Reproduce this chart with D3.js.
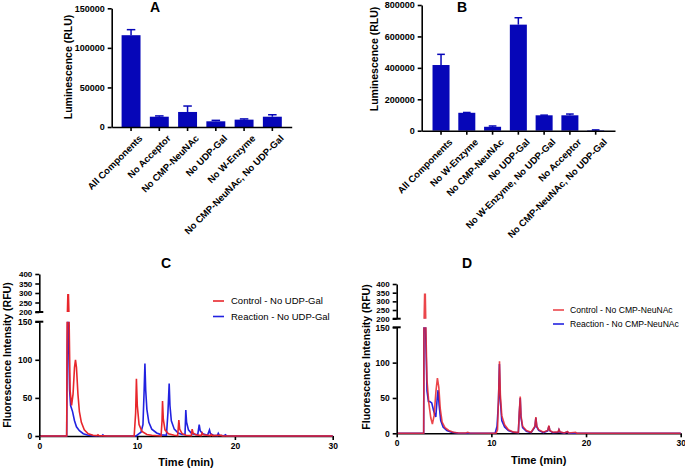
<!DOCTYPE html>
<html>
<head>
<meta charset="utf-8">
<script src="https://cdn.jsdelivr.net/npm/d3@7"></script>
<style>
  body { margin: 0; background: #fff; }
  svg { display: block; }
  text { font-family: "Liberation Sans", Arial, sans-serif; }
</style>
</head>
<body>
<svg id="fig" width="685" height="469"></svg>
<script>
// ---- panel A: luminescence
var catsA = ['All Components', 'No Acceptor', 'No CMP-NeuNAc', 'No UDP-Gal', 'No W-Enzyme', 'No CMP-NeuNAc, No UDP-Gal']
var meanA = [116000, 13000, 19000, 7200, 9300, 13000]
var errA = [123000, 14000, 26500, 8400, 10200, 15500]
var ticksA = [0, 50000, 100000, 150000]

// ---- panel B: luminescence
var catsB = ['All Components', 'No W-Enzyme', 'No CMP-NeuNAc', 'No UDP-Gal', 'No W-Enzyme, No UDP-Gal', 'No Acceptor', 'No CMP-NeuNAc, No UDP-Gal']
var meanB = [418000, 114000, 25000, 675000, 98000, 98000, 3000]
var errB = [486000, 116000, 30000, 719000, 99000, 106000, 5000]
var ticksB = [0, 200000, 400000, 600000, 800000]

// ---- chromatograms [time (min), RFU]
var ctrlC = [[0,0],[2.8,0],[2.85,150],[2.92,290],[2.98,290],[3.05,150],[3.15,60],[3.3,40],[3.45,55],[3.6,90],[3.7,100],[3.8,90],[3.95,55],[4.1,32],[4.3,18],[4.6,8],[5.0,3],[5.5,1],[5.9,0.5],[6.0,1.5],[6.1,0.5],[7,0],[9.7,0],[9.85,30],[9.93,75],[10.02,40],[10.2,15],[10.5,6],[11,2],[11.5,1],[12.45,0],[12.55,20],[12.6,46],[12.68,22],[12.85,8],[13.2,3],[13.8,1],[14.15,0.5],[14.27,21],[14.35,9],[14.6,3],[15,1],[15.55,0.5],[15.63,9],[15.72,4],[16,1.5],[16.55,0.5],[16.65,4],[16.75,1.5],[17.5,0.5],[17.6,2],[17.7,0.5],[18.6,1],[18.7,0],[30,0]]
var reacC = [[0,0],[2.8,0],[2.86,120],[2.93,185],[3.0,120],[3.1,60],[3.2,40],[3.4,32],[3.6,20],[3.8,12],[4.1,7],[4.5,3],[5.0,1],[5.5,0.3],[6.4,0.3],[6.5,1.5],[6.6,0.3],[9.9,0],[10.2,3],[10.4,5],[10.6,15],[10.72,60],[10.8,95],[10.88,60],[11.0,35],[11.2,18],[11.5,9],[12,4],[12.5,1.5],[13.0,1],[13.15,30],[13.28,69],[13.36,40],[13.5,20],[13.8,9],[14.2,4],[14.6,2],[14.9,2],[14.98,34],[15.06,18],[15.25,8],[15.6,3],[16.2,1.5],[16.35,15],[16.45,7],[16.7,3],[17.2,1],[17.4,8],[17.5,3],[17.8,1],[18.2,0.5],[18.3,3.5],[18.4,1],[18.9,0.3],[19.04,1.5],[19.15,0.3],[20,0],[30,0]]
var ctrlD = [[0,0],[2.85,0],[2.88,150],[2.95,340],[3.02,340],[3.08,150],[3.2,75],[3.4,42],[3.6,22],[3.77,13],[3.95,25],[4.15,60],[4.3,78],[4.45,65],[4.6,35],[4.8,16],[5.1,8],[5.5,4],[6,1.5],[6.5,0.5],[7.3,0.5],[7.5,1.5],[7.7,0.5],[10.5,0],[10.65,5],[10.78,60],[10.86,102],[10.95,55],[11.1,25],[11.4,12],[11.8,5],[12.3,2],[12.85,1],[12.95,30],[13.05,52],[13.13,25],[13.3,10],[13.7,4],[14.2,1.5],[14.6,10],[14.7,23],[14.8,10],[15.0,5],[15.5,1.5],[15.95,4],[16.08,11],[16.18,4],[16.5,1.5],[17.05,2],[17.14,5.5],[17.25,2],[17.7,0.5],[18.05,2.5],[18.15,0.5],[18.9,1.5],[19.0,0.3],[20,0],[30,0]]
var reacD = [[0,0],[2.85,0],[2.88,150],[2.95,200],[3.05,150],[3.2,60],[3.35,45],[3.5,45],[3.7,43],[3.9,32],[4.13,23],[4.28,50],[4.37,61],[4.48,40],[4.65,18],[4.9,9],[5.3,4],[5.8,1.5],[6.5,0.3],[10.4,0],[10.6,10],[10.75,45],[10.85,98],[10.93,50],[11.1,18],[11.4,9],[11.8,4],[12.3,1.5],[12.85,1],[12.95,28],[13.05,50],[13.13,22],[13.3,8],[13.7,3],[14.2,1],[14.6,9],[14.7,22],[14.8,9],[15,4],[15.5,1],[15.95,3.5],[16.08,10],[16.18,3.5],[16.5,1],[17.05,1.5],[17.14,5],[17.25,1.5],[17.7,0.3],[18.05,2],[18.15,0.3],[20,0],[30,0]]
var timeTicks = [0, 10, 20, 30]
var lowTicks = [0, 50, 100, 150]
var highTicks = [200, 250, 300, 350, 400]

var RED = '#e8262b'
var BLUE = '#2222e0'
var BAR = '#0606b8'

var svg = d3.select('#fig')

var styleAxis = function (g, fs) {
  g.selectAll('path, line').attr('stroke', '#000').attr('stroke-width', 1.6)
  g.selectAll('text').attr('font-size', fs).attr('font-weight', 'bold').attr('fill', '#000')
    .attr('font-family', '"Liberation Sans", Arial, sans-serif')
}

var barChart = function (c) {
  var g = svg.append('g')
  var x = d3.scaleBand().domain(c.cats).range([c.left, c.right]).paddingInner(c.pi).paddingOuter(c.po)
  var y = d3.scaleLinear().domain([0, c.max]).range([c.bottom, c.top])

  g.selectAll('rect.bar').data(c.mean).enter().append('rect')
    .attr('x', (d, i) => x(c.cats[i]))
    .attr('y', d => y(d))
    .attr('width', x.bandwidth())
    .attr('height', d => c.bottom - y(d))
    .attr('fill', BAR)

  // upper error bars
  var cap = x.bandwidth() * 0.45
  c.err.forEach((e, i) => {
    var cx = x(c.cats[i]) + x.bandwidth() / 2
    g.append('line').attr('x1', cx).attr('x2', cx).attr('y1', y(c.mean[i])).attr('y2', y(e))
      .attr('stroke', BAR).attr('stroke-width', 1.5)
    g.append('line').attr('x1', cx - cap / 2).attr('x2', cx + cap / 2).attr('y1', y(e)).attr('y2', y(e))
      .attr('stroke', BAR).attr('stroke-width', 1.5)
  })

  var ya = g.append('g').attr('transform', 'translate(' + c.left + ',0)')
    .call(d3.axisLeft(y).tickValues(c.ticks).tickFormat(d3.format('d')).tickSize(4).tickSizeOuter(0))
  styleAxis(ya, 9)

  var xa = g.append('g').attr('transform', 'translate(0,' + c.bottom + ')')
    .call(d3.axisBottom(x).tickSize(4).tickSizeOuter(0))
  styleAxis(xa, 9.5)
  xa.selectAll('text')
    .attr('text-anchor', 'end')
    .attr('transform', 'translate(3,3) rotate(-45)')
    .attr('dy', '0.6em')

  g.append('text')
    .attr('transform', 'translate(' + c.titleX + ',' + c.titleY + ') rotate(-90)')
    .attr('text-anchor', 'middle').attr('dy', '0.35em')
    .attr('font-size', 10.5).attr('font-weight', 'bold')
    .text('Luminescence (RLU)')

  g.append('text').attr('x', c.labelX).attr('y', c.labelY)
    .attr('text-anchor', 'middle').attr('font-size', 14).attr('font-weight', 'bold')
    .text(c.label)
}

var chromChart = function (c) {
  var g = svg.append('g')
  var x = d3.scaleLinear().domain([0, 30]).range([c.x0, c.x1])
  var yLo = d3.scaleLinear().domain([0, 150]).range([c.y0, c.y150])
  var yHi = d3.scaleLinear().domain([200, 400]).range([c.y200, c.y400])

  var id = c.label
  var defs = svg.append('defs')
  defs.append('clipPath').attr('id', 'lo' + id).append('rect')
    .attr('x', c.x0).attr('y', c.y150).attr('width', c.x1 - c.x0 + 2).attr('height', c.y0 - c.y150 + 2)
  defs.append('clipPath').attr('id', 'hi' + id).append('rect')
    .attr('x', c.x0).attr('y', c.y400 - 2).attr('width', c.x1 - c.x0 + 2).attr('height', c.y200 - c.y400 + 2)

  var series = [{ data: c.reac, color: BLUE, op: 1 }, { data: c.ctrl, color: RED, op: c.redOp }]

  // x axis first so the traces sit on it
  var xa = g.append('g').attr('transform', 'translate(0,' + c.y0 + ')')
    .call(d3.axisBottom(x).tickValues(timeTicks).tickSize(4).tickSizeOuter(0))
  styleAxis(xa, 8.5)

  series.forEach(s => {
    var lo = d3.line().x(d => x(d[0])).y(d => yLo(d[1]))
    var hi = d3.line().x(d => x(d[0])).y(d => yHi(d[1]))
    g.append('path').attr('d', lo(s.data)).attr('clip-path', 'url(#lo' + id + ')')
      .attr('fill', 'none').attr('stroke', s.color).attr('stroke-width', 1.6).attr('stroke-opacity', s.op)
    g.append('path').attr('d', hi(s.data)).attr('clip-path', 'url(#hi' + id + ')')
      .attr('fill', 'none').attr('stroke', s.color).attr('stroke-width', 1.6).attr('stroke-opacity', s.op)
  })

  var yl = g.append('g').attr('transform', 'translate(' + c.x0 + ',0)')
    .call(d3.axisLeft(yLo).tickValues(lowTicks).tickSize(4).tickSizeOuter(0))
  styleAxis(yl, 8.5)
  var yh = g.append('g').attr('transform', 'translate(' + c.x0 + ',0)')
    .call(d3.axisLeft(yHi).tickValues(highTicks).tickSize(4).tickSizeOuter(0))
  styleAxis(yh, 8)

  // axis break bars
  ;[c.y150, c.y200].forEach(yy => {
    g.append('line').attr('x1', c.x0 - 4).attr('x2', c.x0 + 4).attr('y1', yy).attr('y2', yy)
      .attr('stroke', '#000').attr('stroke-width', 2)
  })

  g.append('text')
    .attr('transform', 'translate(' + c.titleX + ',' + c.titleY + ') rotate(-90)')
    .attr('text-anchor', 'middle').attr('dy', '0.35em')
    .attr('font-size', 10.5).attr('font-weight', 'bold')
    .text('Fluorescence Intensity (RFU)')

  g.append('text').attr('x', (c.x0 + c.x1) / 2 + c.xtOff).attr('y', c.xtY)
    .attr('text-anchor', 'middle').attr('dy', '0.35em')
    .attr('font-size', 11).attr('font-weight', 'bold')
    .text('Time (min)')

  g.append('text').attr('x', c.labelX).attr('y', c.labelY)
    .attr('text-anchor', 'middle').attr('font-size', 14).attr('font-weight', 'bold')
    .text(c.label)

  // legend
  var leg = [{ name: c.names[0], color: RED, op: c.redOp }, { name: c.names[1], color: BLUE, op: 1 }]
  leg.forEach((l, i) => {
    var yy = c.legY + i * c.legStep
    g.append('line').attr('x1', c.legX).attr('x2', c.legX + 11).attr('y1', yy).attr('y2', yy)
      .attr('stroke', l.color).attr('stroke-width', 1.6).attr('stroke-opacity', l.op)
    g.append('text').attr('x', c.legX + c.legGap).attr('y', yy).attr('dy', '0.35em')
      .attr('font-size', c.legFs).text(l.name)
  })
}

barChart({ cats: catsA, mean: meanA, err: errA, ticks: ticksA, max: 150000,
  left: 111.7, right: 291.7, top: 8.3, bottom: 127, pi: 0.33, po: 0.35,
  titleX: 68, titleY: 67, label: 'A', labelX: 155, labelY: 12 })

barChart({ cats: catsB, mean: meanB, err: errB, ticks: ticksB, max: 800000,
  left: 421.7, right: 615, top: 5, bottom: 130.7, pi: 0.34, po: 0.42,
  titleX: 374, titleY: 59, label: 'B', labelX: 462, labelY: 12 })

chromChart({ ctrl: ctrlC, reac: reacC, x0: 39.3, x1: 332.7, y0: 436, y150: 321.7, y200: 312, y400: 274,
  titleX: 7, titleY: 355, xtOff: 0, xtY: 462, label: 'C', labelX: 166, labelY: 268,
  names: ['Control - No UDP-Gal', 'Reaction - No UDP-Gal'], legX: 213, legY: 301, legStep: 15.5,
  legGap: 18, legFs: 9.5, redOp: 1 })

chromChart({ ctrl: ctrlD, reac: reacD, x0: 396.7, x1: 680.7, y0: 433.3, y150: 327.3, y200: 318.7, y400: 284,
  titleX: 366, titleY: 357, xtOff: 0, xtY: 460, label: 'D', labelX: 467, labelY: 268,
  names: ['Control - No CMP-NeuNAc', 'Reaction - No CMP-NeuNAc'], legX: 553, legY: 310, legStep: 14,
  legGap: 17, legFs: 8.6, redOp: 0.85 })
</script>
</body>
</html>
